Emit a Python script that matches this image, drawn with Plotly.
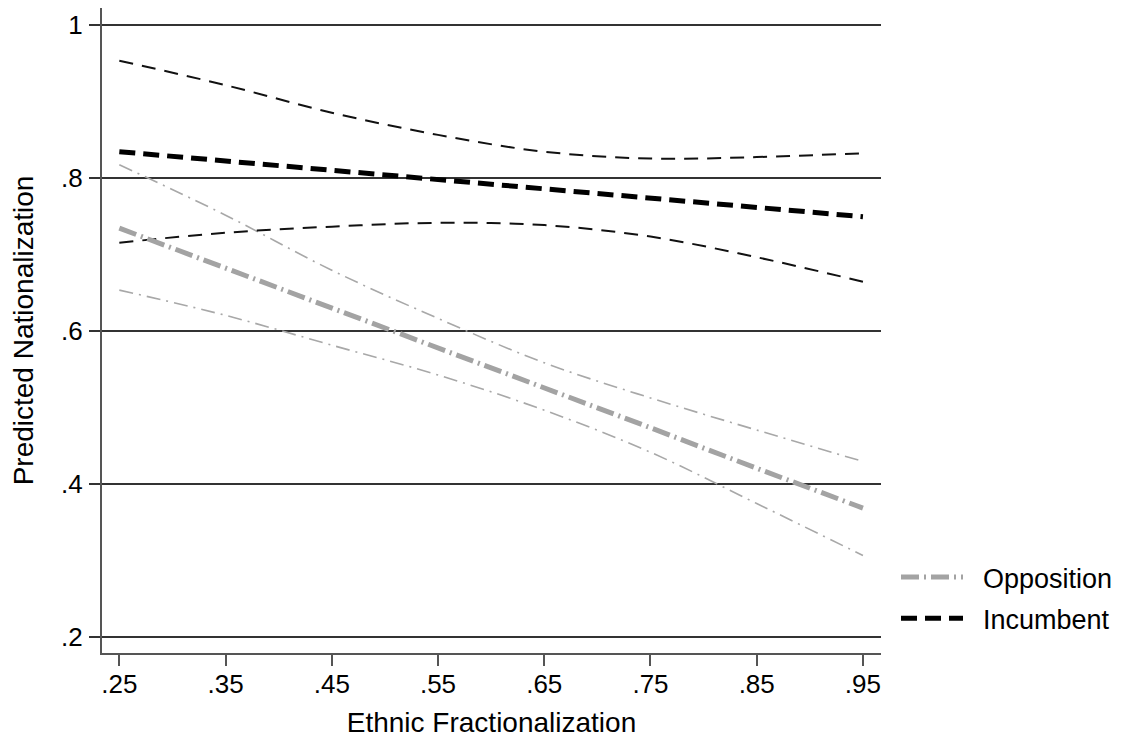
import plotly.graph_objects as go

# ---- data ----
ethnic_frac = [0.25, 0.35, 0.45, 0.55, 0.65, 0.75, 0.85, 0.95]

incumbent_mean  = [0.834, 0.822, 0.810, 0.798, 0.785, 0.773, 0.761, 0.749]
incumbent_upper = [0.953, 0.921, 0.885, 0.856, 0.834, 0.825, 0.827, 0.832]
incumbent_lower = [0.715, 0.728, 0.736, 0.741, 0.738, 0.723, 0.696, 0.664]

opposition_mean  = [0.734, 0.682, 0.629, 0.577, 0.525, 0.473, 0.420, 0.368]
opposition_upper = [0.817, 0.751, 0.679, 0.616, 0.558, 0.512, 0.470, 0.429]
opposition_lower = [0.653, 0.620, 0.581, 0.542, 0.496, 0.441, 0.374, 0.306]

x_ticks = [0.25, 0.35, 0.45, 0.55, 0.65, 0.75, 0.85, 0.95]
x_ticklabels = [".25", ".35", ".45", ".55", ".65", ".75", ".85", ".95"]
y_ticks = [0.2, 0.4, 0.6, 0.8, 1.0]
y_ticklabels = [".2", ".4", ".6", ".8", "1"]

FONT = "Liberation Sans, Arial, Helvetica, sans-serif"
GRAY_MEAN = "#a3a3a3"
GRAY_CI = "#a8a8a8"

fig = go.Figure()

# CI lines (no legend)
fig.add_trace(go.Scatter(x=ethnic_frac, y=opposition_upper, mode="lines", showlegend=False,
                         line=dict(color=GRAY_CI, width=1.6, dash="14px,6px,2px,6px", shape="spline"),
                         hoverinfo="skip"))
fig.add_trace(go.Scatter(x=ethnic_frac, y=opposition_lower, mode="lines", showlegend=False,
                         line=dict(color=GRAY_CI, width=1.6, dash="14px,6px,2px,6px", shape="spline"),
                         hoverinfo="skip"))
fig.add_trace(go.Scatter(x=ethnic_frac, y=incumbent_upper, mode="lines", showlegend=False,
                         line=dict(color="#111111", width=2, dash="14px,9px", shape="spline"),
                         hoverinfo="skip"))
fig.add_trace(go.Scatter(x=ethnic_frac, y=incumbent_lower, mode="lines", showlegend=False,
                         line=dict(color="#111111", width=2, dash="14px,9px", shape="spline"),
                         hoverinfo="skip"))

# Means (legend)
fig.add_trace(go.Scatter(x=ethnic_frac, y=opposition_mean, mode="lines", name="\u00a0\u00a0Opposition",
                         legendgroup="opp", legendrank=1,
                         line=dict(color=GRAY_MEAN, width=5, dash="18px,5px,2px,5px")))
fig.add_trace(go.Scatter(x=ethnic_frac, y=incumbent_mean, mode="lines", name="\u00a0\u00a0Incumbent",
                         legendgroup="inc", legendrank=2,
                         line=dict(color="#000000", width=5, dash="16px,8px")))

# page body has an 8px margin, so the figure is drawn 8px in from the window corner
OFF = 8
W, H = 1126 - OFF, 742 - OFF
L, R, T, B = 102 - OFF, 245, 0, 89
PW, PH = W - L - R, H - T - B

fig.update_layout(
    width=W, height=H,
    margin=dict(l=L, r=R, t=T, b=B, pad=0),
    paper_bgcolor="white", plot_bgcolor="white",
    font=dict(family=FONT, size=26, color="#000000"),
    showlegend=True,
    legend=dict(
        x=(896 - OFF - L) / PW, y=(H - B - (560 - OFF - 7)) / PH,
        xanchor="left", yanchor="top",
        font=dict(size=27, family=FONT, color="#000"),
        bgcolor="rgba(0,0,0,0)", borderwidth=0,
        tracegroupgap=3, itemwidth=62,
    ),
    xaxis=dict(
        range=[0.2337, 0.967],
        tickvals=x_ticks, ticktext=x_ticklabels,
        ticks="outside", ticklen=11, tickwidth=1.5, tickcolor="#555555",
        showline=True, linecolor="#555555", linewidth=2,
        showgrid=False, zeroline=False,
        tickfont=dict(size=26),
        ticklabelstandoff=-4,
        title=dict(text="Ethnic Fractionalization", font=dict(size=28), standoff=14),
    ),
    yaxis=dict(
        range=[0.1785, 1.0219],
        tickvals=y_ticks, ticktext=y_ticklabels,
        ticks="outside", ticklen=11, tickwidth=1.5, tickcolor="#333333",
        showline=True, linecolor="#555555", linewidth=2,
        showgrid=True, gridcolor="#333333", gridwidth=1.5,
        zeroline=False,
        tickfont=dict(size=26),
        ticklabelstandoff=1,
        title=dict(text="Predicted Nationalization", font=dict(size=28), standoff=21),
    ),
)

fig.write_html("out.html")
